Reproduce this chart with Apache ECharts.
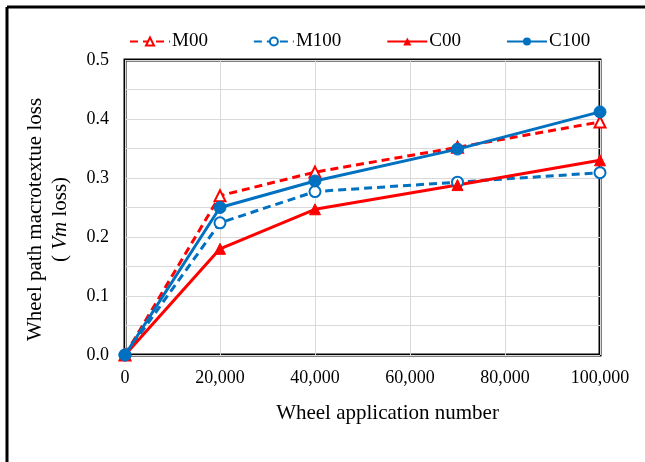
<!DOCTYPE html>
<html>
<head>
<meta charset="utf-8">
<script src="https://cdn.jsdelivr.net/npm/echarts@6/dist/echarts.min.js"></script>
<style>
html,body{margin:0;padding:0;background:#fff;}
#chart{width:645px;height:462px;}
</style>
</head>
<body>
<div id="chart"></div>
<script>
const wheelApplications = [0, 20000, 40000, 70000, 100000];
const seriesNames = ['M00', 'M100', 'C00', 'C100'];
const m00 = [0, 0.270, 0.310, 0.352, 0.395];
const m100 = [0, 0.224, 0.277, 0.293, 0.309];
const c00 = [0, 0.180, 0.247, 0.288, 0.330];
const c100 = [0, 0.250, 0.295, 0.349, 0.412];

const RED = '#FF0000';
const BLUE = '#0070C0';
const FONT = '"Liberation Serif", "Times New Roman", serif';

function pairs(vals) { return wheelApplications.map((x, i) => [x, vals[i]]); }

const chart = echarts.init(document.getElementById('chart'), null, {renderer: 'canvas'});
chart.setOption({
  animation: false,
  backgroundColor: '#fff',
  graphic: [
    {type: 'line', shape: {x1: 7, y1: 7, x2: 645, y2: 7}, style: {stroke: '#000', lineWidth: 3}},
    {type: 'line', shape: {x1: 7, y1: 7, x2: 7, y2: 462}, style: {stroke: '#000', lineWidth: 3}}
  ],
  legend: {
    top: 27,
    left: 124,
    itemWidth: 40,
    itemHeight: 10,
    itemGap: 45,
    textStyle: {fontFamily: FONT, fontSize: 19, color: '#000', padding: [0, 0, 0, -3]},
    data: seriesNames
  },
  grid: {
    left: 125, right: 45, top: 60, bottom: 107,
    show: true, borderColor: '#000', borderWidth: 3, containLabel: false
  },
  xAxis: {
    type: 'value',
    min: 0, max: 100000, interval: 20000,
    axisLine: {show: false},
    axisTick: {show: false},
    splitLine: {show: true, lineStyle: {color: '#d9d9d9', width: 1}},
    axisLabel: {
      fontFamily: FONT, fontSize: 18, color: '#000', margin: 14,
      formatter: v => v.toLocaleString('en-US')
    },
    name: 'Wheel application number',
    nameLocation: 'middle',
    nameGap: 48,
    nameTextStyle: {fontFamily: FONT, fontSize: 21, color: '#000', padding: [0, 0, 0, 50]}
  },
  yAxis: {
    type: 'value',
    min: 0, max: 0.5, interval: 0.1,
    axisLine: {show: false},
    axisTick: {show: false},
    splitLine: {show: true, lineStyle: {color: '#d9d9d9', width: 1}},
    minorTick: {show: false, splitNumber: 2},
    minorSplitLine: {show: true, lineStyle: {color: '#d9d9d9', width: 1}},
    axisLabel: {
      fontFamily: FONT, fontSize: 18, color: '#000', margin: 16,
      formatter: v => v.toFixed(1)
    },
    name: 'Wheel path macrotextue loss\n( {i|Vm} loss)',
    nameLocation: 'middle',
    nameRotate: 90,
    nameGap: 52,
    nameTextStyle: {
      fontFamily: FONT, fontSize: 21, color: '#000', lineHeight: 25, padding: [0, 24, 0, 0],
      rich: {i: {fontFamily: FONT, fontSize: 21, fontStyle: 'italic', color: '#000', lineHeight: 25}}
    }
  },
  series: [
    {
      name: 'M00', type: 'line', data: pairs(m00),
      symbol: 'triangle', symbolSize: 11,
      lineStyle: {color: RED, width: 3, type: [8, 5]},
      itemStyle: {color: '#fff', borderColor: RED, borderWidth: 2}
    },
    {
      name: 'M100', type: 'line', data: pairs(m100),
      symbol: 'circle', symbolSize: 11,
      lineStyle: {color: BLUE, width: 3, type: [8, 5]},
      itemStyle: {color: '#fff', borderColor: BLUE, borderWidth: 2}
    },
    {
      name: 'C00', type: 'line', data: pairs(c00),
      symbol: 'triangle', symbolSize: 11,
      lineStyle: {color: RED, width: 3},
      itemStyle: {color: RED, borderColor: RED}
    },
    {
      name: 'C100', type: 'line', data: pairs(c100),
      symbol: 'circle', symbolSize: 12,
      lineStyle: {color: BLUE, width: 3},
      itemStyle: {color: BLUE, borderColor: BLUE}
    }
  ]
});
</script>
</body>
</html>
